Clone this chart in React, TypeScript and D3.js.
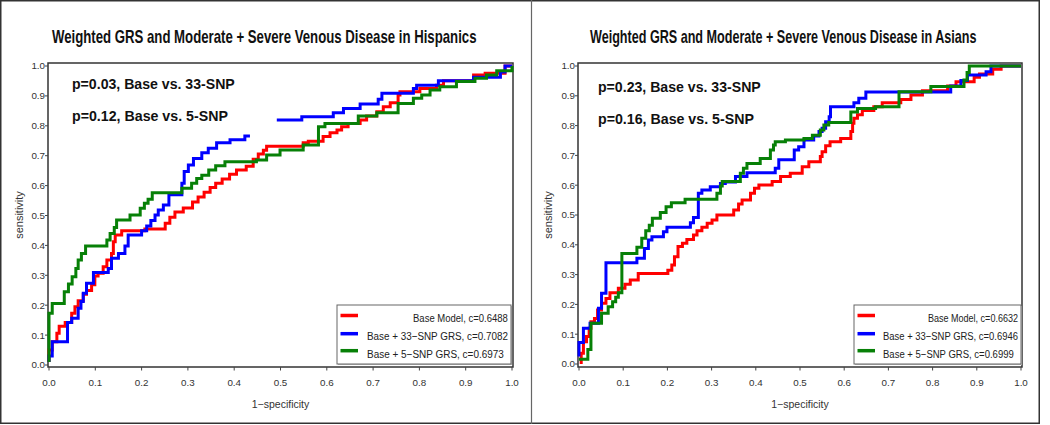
import React, { useLayoutEffect, useRef, useState } from "react";
import * as d3 from "d3";

type Pt = [number, number];

// ---------- data ----------
const xTicks: number[] = [0, 0.1, 0.2, 0.3, 0.4, 0.5, 0.6, 0.7, 0.8, 0.9, 1.0];
const yTicks: number[] = [0, 0.1, 0.2, 0.3, 0.4, 0.5, 0.6, 0.7, 0.8, 0.9, 1.0];

const titleHisp = "Weighted GRS and Moderate + Severe Venous Disease in Hispanics";
const titleAsian = "Weighted GRS and Moderate + Severe Venous Disease in Asians";
const notesHisp = ["p=0.03, Base vs. 33-SNP", "p=0.12, Base vs. 5-SNP"];
const notesAsian = ["p=0.23, Base vs. 33-SNP", "p=0.16, Base vs. 5-SNP"];
const legendHisp = ["Base Model, c=0.6488", "Base + 33\u2212SNP GRS, c=0.7082", "Base + 5\u2212SNP GRS, c=0.6973"];
const legendAsian = ["Base Model, c=0.6632", "Base + 33\u2212SNP GRS, c=0.6946", "Base + 5\u2212SNP GRS, c=0.6999"];
const seriesColors = ["#ff0000", "#0000ff", "#078007"];

// ROC step points: [1-specificity where the step occurs, sensitivity after the step]
const hispRed: Pt[] = [
  [0, 0.01], [0, 0.05], [0.007, 0.078], [0.017, 0.106], [0.022, 0.13], [0.035, 0.142],
  [0.049, 0.173], [0.056, 0.195], [0.063, 0.215], [0.074, 0.237], [0.081, 0.249],
  [0.092, 0.268], [0.099, 0.298], [0.106, 0.307], [0.117, 0.329], [0.125, 0.351],
  [0.135, 0.373], [0.139, 0.412], [0.143, 0.435], [0.157, 0.449], [0.207, 0.455],
  [0.251, 0.474], [0.261, 0.494], [0.272, 0.512], [0.29, 0.525], [0.31, 0.545],
  [0.322, 0.562], [0.335, 0.578], [0.348, 0.594], [0.36, 0.608], [0.374, 0.622],
  [0.39, 0.638], [0.405, 0.652], [0.426, 0.665], [0.441, 0.688], [0.452, 0.706],
  [0.463, 0.718], [0.47, 0.732], [0.549, 0.743], [0.56, 0.748], [0.592, 0.764],
  [0.607, 0.777], [0.622, 0.786], [0.632, 0.797], [0.646, 0.808], [0.672, 0.819],
  [0.686, 0.833], [0.708, 0.847], [0.722, 0.864], [0.737, 0.877], [0.754, 0.903],
  [0.758, 0.914], [0.801, 0.925], [0.837, 0.936], [0.852, 0.951], [0.917, 0.97],
  [0.942, 0.976], [0.985, 1.0], [1, 1.0],
];
const hispBlueA: Pt[] = [
  [0, 0.01], [0, 0.03], [0.007, 0.078], [0.04, 0.142], [0.049, 0.156], [0.063, 0.19],
  [0.069, 0.212], [0.074, 0.24], [0.081, 0.273], [0.096, 0.309], [0.128, 0.323],
  [0.135, 0.357], [0.15, 0.373], [0.164, 0.398], [0.171, 0.435], [0.2, 0.449],
  [0.211, 0.465], [0.22, 0.483], [0.229, 0.502], [0.236, 0.518], [0.247, 0.535],
  [0.259, 0.569], [0.287, 0.608], [0.292, 0.647], [0.301, 0.669], [0.312, 0.691],
  [0.33, 0.71], [0.344, 0.725], [0.362, 0.743], [0.391, 0.753], [0.423, 0.766],
  [0.434, 0.766],
];
const hispBlueB: Pt[] = [
  [0.492, 0.819], [0.546, 0.83], [0.614, 0.844], [0.636, 0.858], [0.672, 0.873],
  [0.711, 0.889], [0.719, 0.909], [0.787, 0.925], [0.794, 0.936], [0.841, 0.951],
  [0.917, 0.962], [0.975, 0.98], [0.985, 1.0], [1, 1.0],
];
const hispGreen: Pt[] = [
  [0, 0.01], [0, 0.173], [0.007, 0.206], [0.033, 0.245], [0.042, 0.271], [0.05, 0.295],
  [0.058, 0.323], [0.063, 0.351], [0.07, 0.373], [0.079, 0.398], [0.125, 0.418],
  [0.132, 0.44], [0.141, 0.46], [0.146, 0.485], [0.175, 0.502], [0.197, 0.524],
  [0.206, 0.541], [0.214, 0.554], [0.223, 0.576], [0.287, 0.591], [0.308, 0.608],
  [0.319, 0.624], [0.33, 0.635], [0.345, 0.652], [0.36, 0.666], [0.38, 0.68],
  [0.448, 0.686], [0.47, 0.702], [0.499, 0.719], [0.549, 0.736], [0.582, 0.797],
  [0.596, 0.808], [0.668, 0.833], [0.708, 0.844], [0.754, 0.875], [0.787, 0.892],
  [0.805, 0.903], [0.823, 0.92], [0.844, 0.931], [0.88, 0.948], [0.92, 0.959],
  [0.945, 0.97], [0.967, 0.984], [1, 1.0],
];

const asianRed: Pt[] = [
  [0.005, 0], [0.005, 0.036], [0.01, 0.075], [0.017, 0.092], [0.023, 0.12], [0.027, 0.142],
  [0.035, 0.153], [0.042, 0.181], [0.051, 0.204], [0.061, 0.22], [0.07, 0.239],
  [0.089, 0.254], [0.104, 0.268], [0.116, 0.282], [0.134, 0.304], [0.201, 0.315],
  [0.21, 0.332], [0.216, 0.36], [0.224, 0.394], [0.234, 0.405], [0.244, 0.418],
  [0.259, 0.433], [0.267, 0.447], [0.278, 0.459], [0.29, 0.472], [0.301, 0.483],
  [0.312, 0.5], [0.35, 0.517], [0.361, 0.537], [0.369, 0.55], [0.388, 0.573],
  [0.397, 0.59], [0.407, 0.601], [0.437, 0.612], [0.456, 0.629], [0.478, 0.64],
  [0.505, 0.662], [0.52, 0.679], [0.546, 0.696], [0.55, 0.712], [0.558, 0.732],
  [0.568, 0.746], [0.592, 0.757], [0.615, 0.78], [0.619, 0.808], [0.622, 0.825],
  [0.63, 0.836], [0.641, 0.851], [0.667, 0.863], [0.686, 0.877], [0.728, 0.888],
  [0.751, 0.903], [0.777, 0.917], [0.834, 0.933], [0.853, 0.947], [0.894, 0.962],
  [0.906, 0.973], [0.936, 0.989], [0.955, 1.0], [1, 1.0],
];
const asianBlue: Pt[] = [
  [0, 0.025], [0, 0.072], [0.01, 0.12], [0.025, 0.137], [0.044, 0.187], [0.051, 0.237],
  [0.061, 0.34], [0.131, 0.355], [0.148, 0.388], [0.157, 0.416], [0.165, 0.427],
  [0.191, 0.444], [0.199, 0.459], [0.252, 0.474], [0.259, 0.492], [0.27, 0.573],
  [0.278, 0.584], [0.297, 0.595], [0.32, 0.606], [0.331, 0.611], [0.354, 0.629],
  [0.38, 0.642], [0.444, 0.657], [0.452, 0.685], [0.487, 0.718], [0.497, 0.729],
  [0.509, 0.752], [0.531, 0.765], [0.543, 0.78], [0.55, 0.791], [0.558, 0.813],
  [0.566, 0.83], [0.569, 0.863], [0.622, 0.877], [0.633, 0.892], [0.649, 0.913],
  [0.841, 0.933], [0.864, 0.951], [0.879, 0.97], [0.921, 0.981], [0.932, 1.0], [1, 1.0],
];
const asianGreen: Pt[] = [
  [0, 0.016], [0.02, 0.049], [0.027, 0.137], [0.051, 0.17], [0.066, 0.192], [0.076, 0.209],
  [0.083, 0.224], [0.089, 0.239], [0.097, 0.371], [0.131, 0.392], [0.142, 0.422],
  [0.151, 0.447], [0.159, 0.466], [0.166, 0.489], [0.184, 0.508], [0.197, 0.528],
  [0.209, 0.541], [0.24, 0.553], [0.312, 0.573], [0.32, 0.597], [0.324, 0.612],
  [0.365, 0.64], [0.372, 0.657], [0.38, 0.673], [0.41, 0.69], [0.433, 0.718],
  [0.44, 0.735], [0.444, 0.746], [0.467, 0.752], [0.509, 0.757], [0.528, 0.768],
  [0.546, 0.785], [0.554, 0.802], [0.565, 0.81], [0.615, 0.846], [0.63, 0.857],
  [0.671, 0.863], [0.724, 0.914], [0.796, 0.931], [0.871, 0.953], [0.878, 0.978],
  [0.883, 1.0], [1, 1.0],
];

// ---------- layout ----------
type Cfg = {
  fx0: number; fx1: number; fy0: number; fy1: number;
  xr: [number, number]; yr: [number, number];
  titleX: number; titleW: number;
  noteX: number; noteY: [number, number]; noteW: [number, number];
  leg: { x: number; y: number; w: number; h: number; tw: [number, number, number] };
  sensX: number;
};

const cfgL: Cfg = {
  fx0: 48, fx1: 513, fy0: 63, fy1: 367,
  xr: [49, 512], yr: [365, 66],
  titleX: 52, titleW: 425,
  noteX: 72, noteY: [89, 121], noteW: [163, 156],
  leg: { x: 337, y: 305, w: 174, h: 59, tw: [95, 141, 137] },
  sensX: 23,
};
const cfgR: Cfg = {
  fx0: 578, fx1: 1022, fy0: 63, fy1: 367,
  xr: [579, 1021], yr: [364, 66],
  titleX: 590, titleW: 387,
  noteX: 598, noteY: [92, 124], noteW: [163, 156],
  leg: { x: 854, y: 305, w: 167, h: 59, tw: [90, 135, 131] },
  sensX: 552,
};

const sans = "'Liberation Sans', Arial, sans-serif";

// Text horizontally scaled to a target width (mimics a condensed face)
function FitText({ x, y, width, children, ...rest }: any) {
  const ref = useRef<SVGTextElement>(null);
  const [k, setK] = useState(1);
  useLayoutEffect(() => {
    const el = ref.current;
    if (!el) return;
    const w = el.getComputedTextLength();
    if (w > 0) setK(width / w);
  }, [width, children]);
  return (
    <text ref={ref} transform={`translate(${x},${y}) scale(${k},1)`} {...rest}>{children}</text>
  );
}

function Panel({ cfg, title, notes, labels, series }: {
  cfg: Cfg; title: string; notes: string[]; labels: string[]; series: Pt[][][];
}) {
  const x = d3.scaleLinear().domain([0, 1]).range(cfg.xr);
  const y = d3.scaleLinear().domain([0, 1]).range(cfg.yr);
  const line = d3.line<Pt>().x((d) => x(d[0])).y((d) => y(d[1])).curve(d3.curveStepAfter);
  const fmt = d3.format(".1f");
  const L = cfg.leg;
  const sampleY = [L.y + 10.5, L.y + 28.7, L.y + 45.7];
  const textY = [L.y + 16.5, L.y + 35, L.y + 52.5];
  const right = L.x + L.w - 3;
  const textX = [right - L.tw[0], right - L.tw[1], right - L.tw[1]];
  return (
    <g>
      <FitText x={cfg.titleX} y={42.7} width={cfg.titleW} fontFamily={sans} fontWeight="bold" fontSize={18}
        fill="#111">{title}</FitText>
      {/* plot frame */}
      <rect x={cfg.fx0} y={cfg.fy0} width={cfg.fx1 - cfg.fx0} height={cfg.fy1 - cfg.fy0}
        fill="#fff" stroke="#333" strokeWidth={1.5} />
      {/* ticks */}
      {xTicks.map((t) => (
        <g key={"x" + t}>
          <line x1={x(t)} x2={x(t)} y1={cfg.fy1} y2={cfg.fy1 + 3.5} stroke="#444" strokeWidth={1} />
          <text x={x(t)} y={385.5} textAnchor="middle" fontFamily={sans} fontSize={9.8} fill="#333">{fmt(t)}</text>
        </g>
      ))}
      {yTicks.map((t) => (
        <g key={"y" + t}>
          <line x1={cfg.fx0 - 3} x2={cfg.fx0} y1={y(t)} y2={y(t)} stroke="#444" strokeWidth={1} />
          <text x={cfg.fx0 - 3} y={y(t) + 3.4} textAnchor="end" fontFamily={sans} fontSize={9.8} fill="#333">{fmt(t)}</text>
        </g>
      ))}
      <text x={(cfg.xr[0] + cfg.xr[1]) / 2} y={408} textAnchor="middle" fontFamily={sans} fontSize={10.5} fill="#333">1{"\u2212"}specificity</text>
      <text transform={`translate(${cfg.sensX},215) rotate(-90)`} textAnchor="middle" fontFamily={sans} fontSize={11} fill="#333">sensitivity</text>
      {/* curves */}
      {series.map((parts, i) =>
        parts.map((p, j) => (
          <path key={`s${i}-${j}`} d={line(p) || ""} fill="none" stroke={seriesColors[i]} strokeWidth={3} strokeLinejoin="miter" />
        ))
      )}
      {/* annotations */}
      {notes.map((n, i) => (
        <FitText key={"n" + i} x={cfg.noteX} y={cfg.noteY[i]} width={cfg.noteW[i]} fontFamily={sans}
          fontWeight="bold" fontSize={14.5} fill="#111">{n}</FitText>
      ))}
      {/* legend */}
      <rect x={L.x + 1} y={L.y + 1} width={L.w} height={L.h} fill="#bbb" />
      <rect x={L.x} y={L.y} width={L.w} height={L.h} fill="#fff" stroke="#666" strokeWidth={1} />
      {labels.map((lab, i) => (
        <g key={"l" + i}>
          <line x1={L.x + 3.5} x2={L.x + 21} y1={sampleY[i]} y2={sampleY[i]} stroke={seriesColors[i]} strokeWidth={3.5} />
          <FitText x={textX[i]} y={textY[i]} width={L.tw[i]} fontFamily={sans} fontSize={11.5} fill="#222">{lab}</FitText>
        </g>
      ))}
    </g>
  );
}

export default function App() {
  return (
    <svg width={1050} height={425} viewBox="0 0 1050 425"
      style={{ position: "fixed", left: 0, top: 0, background: "#fff", display: "block" }}>
      <rect x={0} y={0} width={1050} height={425} fill="#fff" />
      <rect x={0.75} y={0.75} width={1038.5} height={422.5} fill="none" stroke="#333" strokeWidth={1.5} />
      <line x1={531.5} x2={531.5} y1={0} y2={424} stroke="#666" strokeWidth={1.2} />
      <Panel cfg={cfgL} title={titleHisp} notes={notesHisp} labels={legendHisp}
        series={[[hispRed], [hispBlueA, hispBlueB], [hispGreen]]} />
      <Panel cfg={cfgR} title={titleAsian} notes={notesAsian} labels={legendAsian}
        series={[[asianRed], [asianBlue], [asianGreen]]} />
    </svg>
  );
}
